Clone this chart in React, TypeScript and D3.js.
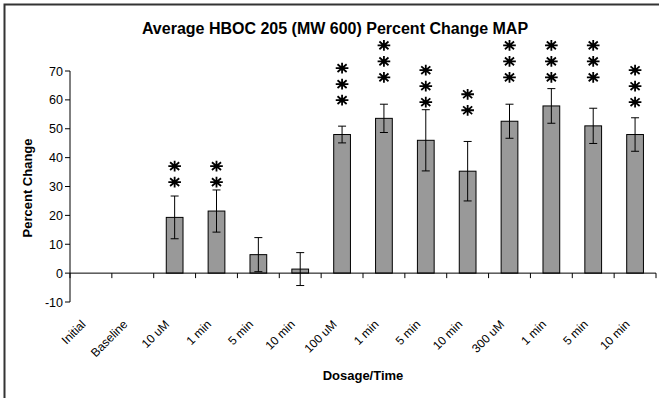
import React from "react";
import * as d3 from "d3";

const categories = ["Initial", "Baseline", "10 uM", "1 min", "5 min", "10 min", "100 uM", "1 min", "5 min", "10 min", "300 uM", "1 min", "5 min", "10 min"];
const values: (number | null)[] = [null, null, 19.3, 21.5, 6.4, 1.4, 48.0, 53.6, 46.0, 35.3, 52.6, 57.9, 51.0, 48.0];
const errors: (number | null)[] = [null, null, 7.4, 7.3, 5.9, 5.7, 2.9, 4.9, 10.6, 10.3, 5.9, 6.0, 6.1, 5.8];
const starCounts = [0, 0, 2, 2, 0, 0, 3, 3, 3, 2, 3, 3, 3, 3];
const starBase = [0, 0, 31.5, 31.5, 0, 0, 59.9, 67.8, 59.2, 56.4, 67.8, 67.8, 67.8, 59.2];
const yTicks = [-10, 0, 10, 20, 30, 40, 50, 60, 70];
const title = "Average HBOC 205 (MW 600) Percent Change MAP";
const yTitle = "Percent Change";
const xTitle = "Dosage/Time";

const W = 659;
const H = 398;
const left = 70;
const right = 656;
const font = "'Liberation Sans', Arial, sans-serif";

// eight-armed asterisk symbol type for d3.symbol
const asterisk8 = {
  draw(ctx: any, size: number) {
    const r = Math.sqrt(size) / 2;
    const ry = r * 0.85;
    const d = r * 0.72;
    const dy = ry * 0.72;
    ctx.moveTo(-r, 0); ctx.lineTo(r, 0);
    ctx.moveTo(0, -ry); ctx.lineTo(0, ry);
    ctx.moveTo(-d, -dy); ctx.lineTo(d, dy);
    ctx.moveTo(-d, dy); ctx.lineTo(d, -dy);
  },
};

export default function App() {
  const x = d3.scaleBand<number>().domain(categories.map((_, i) => i)).range([left, right]).paddingInner(0.6).paddingOuter(0.3);
  const xb = d3.scaleBand<number>().domain(categories.map((_, i) => i)).range([left, right]);
  const y = d3.scaleLinear().domain([-10, 70]).range([302, 71]);
  const y0 = y(0);
  const starGap = 16;
  const starPath = d3.symbol().type(asterisk8 as any).size(160)() as string;
  return (
    <svg width={W} height={H} style={{ position: "absolute", left: 0, top: 0, background: "#fff" }} fontFamily={font}>
      <rect x={4.5} y={4.5} width={W + 10} height={H + 10} fill="#fff" stroke="#333" strokeWidth={2} />
      <text x={335} y={34} textAnchor="middle" fontSize={16} fontWeight="bold">{title}</text>
      {/* y axis */}
      <line x1={left} x2={left} y1={y(70)} y2={y(-10)} stroke="#000" />
      {yTicks.map((t) => (
        <g key={t}>
          <line x1={left - 5} x2={left} y1={y(t)} y2={y(t)} stroke="#000" />
          <text x={left - 7} y={y(t)} dy="0.36em" textAnchor="end" fontSize={12.5}>{t}</text>
        </g>
      ))}
      <text transform={`translate(32,188) rotate(-90)`} textAnchor="middle" fontSize={13} fontWeight="bold">{yTitle}</text>
      {/* bars */}
      {values.map((v, i) =>
        v == null ? null : (
          <rect key={i} x={x(i)} width={x.bandwidth()} y={y(Math.max(v, 0))} height={Math.abs(y(v) - y0)} fill="#999999" stroke="#000" strokeWidth={1} />
        )
      )}
      {/* x axis */}
      <line x1={left} x2={right} y1={y0} y2={y0} stroke="#000" />
      {categories.map((_, i) => (
        <line key={i} x1={xb(i)!} x2={xb(i)!} y1={y0} y2={y0 + 5} stroke="#000" />
      ))}
      <line x1={right} x2={right} y1={y0} y2={y0 + 5} stroke="#000" />
      {/* error bars */}
      {values.map((v, i) => {
        const e = errors[i];
        if (v == null || e == null) return null;
        const cx = xb(i)! + xb.bandwidth() / 2;
        return (
          <g key={i} stroke="#000">
            <line x1={cx} x2={cx} y1={y(v + e)} y2={y(v - e)} />
            <line x1={cx - 4} x2={cx + 4} y1={y(v + e)} y2={y(v + e)} />
            <line x1={cx - 4} x2={cx + 4} y1={y(v - e)} y2={y(v - e)} />
          </g>
        );
      })}
      {/* significance stars */}
      {starCounts.map((n, i) => {
        const cx = xb(i)! + xb.bandwidth() / 2;
        return d3.range(n).map((k) => (
          <path key={`${i}-${k}`} d={starPath} transform={`translate(${cx},${y(starBase[i]) - k * starGap})`} fill="none" stroke="#000" strokeWidth={1.8} />
        ));
      })}
      {/* x labels */}
      {categories.map((c, i) => {
        const cx = xb(i)! + xb.bandwidth() / 2;
        return (
          <text key={i} transform={`translate(${cx - 4.5},${y0 + 52}) rotate(-45)`} textAnchor="end" fontSize={12}>{c}</text>
        );
      })}
      <text x={363} y={380} textAnchor="middle" fontSize={13} fontWeight="bold">{xTitle}</text>
    </svg>
  );
}
